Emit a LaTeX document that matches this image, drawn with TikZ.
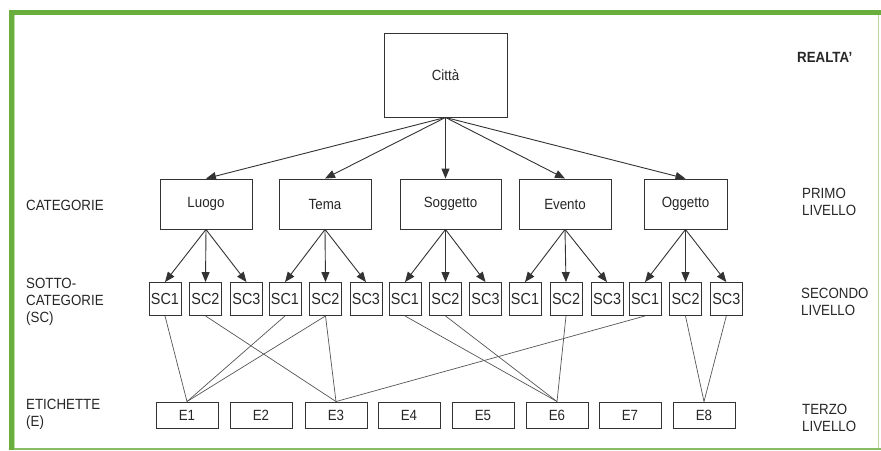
\documentclass[tikz,border=0pt]{standalone}
\usepackage{fontspec}
\setmainfont{Liberation Sans}[FakeStretch=0.9]
\usetikzlibrary{arrows.meta}
\definecolor{frameg}{HTML}{6AAF3D}
\definecolor{framel}{HTML}{B9DDA3}
\definecolor{ink}{HTML}{262626}
\definecolor{boxc}{HTML}{333333}
\definecolor{linkc}{HTML}{555555}
\tikzset{
  box/.style={draw=boxc, line width=0.9pt, fill=white, inner sep=0pt, text=ink,
    font=\fontsize{14.8}{17}\selectfont},
  catbox/.style={box, minimum width=92pt, minimum height=50pt},
  scbox/.style={box, minimum width=32pt, minimum height=33pt, font=\fontsize{16}{17}\selectfont},
  ebox/.style={box, minimum width=62pt, minimum height=26pt},
  lbl/.style={anchor=west, align=left, inner sep=0pt, text=ink,
    font=\fontsize{14.8}{17}\selectfont},
  arr/.style={draw=boxc, line width=0.9pt, -{Triangle[length=10pt,width=8pt]}},
  lnk/.style={draw=linkc, line width=0.7pt},
}
\begin{document}
\begin{tikzpicture}[x=1pt,y=-1pt]
\useasboundingbox (0,0) rectangle (881,450);
\fill[white] (0,0) rectangle (881,450);
% frame
\fill[frameg] (9,10) rectangle (881,15.3);
\fill[frameg] (9,10) rectangle (14,450);
\fill[framel] (14,15.3) rectangle (15.3,450);
\fill[frameg!80] (14,447.6) rectangle (881,449.8);
\fill[framel] (878,15.3) rectangle (879.3,447.6);

% top
\node[box, minimum width=123pt, minimum height=84pt] (citta) at (445.5,75) {Città};
% categories
\node[catbox] (luogo) at (206,204) {Luogo};
\node[catbox] (tema) at (325,204) {Tema};
\node[catbox, minimum width=101pt] (sogg) at (450.5,204) {Soggetto};
\node[catbox] (evento) at (565,204) {Evento};
\node[catbox, minimum width=83pt] (ogg) at (685.5,204) {Oggetto};
\coordinate (sogtop) at (sogg.north -| citta.south);
\coordinate (sogbot) at (sogg.south -| citta.south);

% subcategories
\foreach \i/\x/\t in {1/165/SC1,2/205.5/SC2,3/246.5/SC3,4/285/SC1,5/325.5/SC2,6/366/SC3,
  7/405/SC1,8/445.5/SC2,9/485.5/SC3,10/525/SC1,11/566/SC2,12/607/SC3,
  13/645/SC1,14/685.5/SC2,15/726.3/SC3}
  \node[scbox] (sc\i) at (\x,299) {\t};

% labels E
\foreach \i/\x in {1/187,2/261,3/336,4/409,5/483,6/557,7/630,8/704}
  \node[ebox] (e\i) at (\x,415) {E\i};

% arrows from Citta
\foreach \c in {luogo,tema,evento,ogg}
  \draw[arr] (citta.south) -- (\c.north);
\draw[arr] (citta.south) -- (sogtop);

% arrows to subcategories
\foreach \c/\a/\b/\d in {luogo/1/2/3,tema/4/5/6,evento/10/11/12,ogg/13/14/15}{
  \draw[arr] (\c.south) -- (sc\a.north);
  \draw[arr] (\c.south) -- (sc\b.north);
  \draw[arr] (\c.south) -- (sc\d.north);
}
\draw[arr] (sogbot) -- (sc7.north);
\draw[arr] (sogbot) -- (sc8.north);
\draw[arr] (sogbot) -- (sc9.north);

% links to E
\draw[lnk] (sc1.south) -- (e1.north);
\draw[lnk] (sc4.south) -- (e1.north);
\draw[lnk] (sc5.south) -- (e1.north);
\draw[lnk] (sc2.south) -- (e3.north);
\draw[lnk] (sc5.south) -- (e3.north);
\draw[lnk] (sc13.south) -- (e3.north);
\draw[lnk] (sc7.south) -- (e6.north);
\draw[lnk] (sc8.south) -- (e6.north);
\draw[lnk] (sc11.south) -- (e6.north);
\draw[lnk] (sc14.south) -- (e8.north);
\draw[lnk] (sc15.south) -- (e8.north);

% left labels
\node[lbl] (lcat) at (26,205) {CATEGORIE};
\node[lbl] (lsc) at (26,302) {SOTTO-\\CATEGORIE\\(SC)};
\node[lbl] (let) at (26,414) {ETICHETTE\\(E)};
% right labels
\node[lbl, font=\bfseries\fontsize{14.8}{17}\selectfont] (lreal) at (797,57) {REALTA'};
\node[lbl] (lprimo) at (802,202) {PRIMO\\LIVELLO};
\node[lbl] (lsec) at (801,302) {SECONDO\\LIVELLO};
\node[lbl] (lterzo) at (802,418) {TERZO\\LIVELLO};
\end{tikzpicture}
\end{document}
